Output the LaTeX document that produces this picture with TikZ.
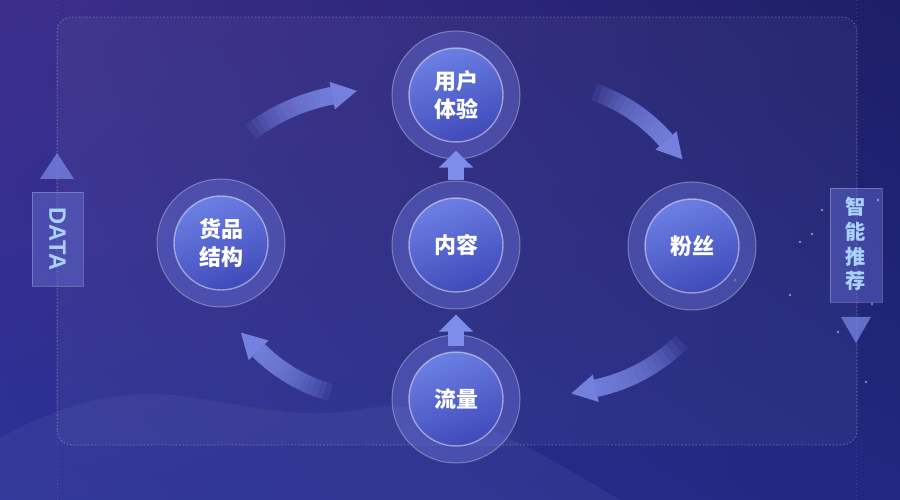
\documentclass[tikz,border=0pt]{standalone}
\usepackage{fontspec}
\newfontfamily\cjk{Noto Sans CJK SC}
\newfontfamily\latin{Liberation Sans}
\usetikzlibrary{calc,arrows.meta,shadings}

\definecolor{bgtl}{RGB}{62,46,140}
\definecolor{bgtr}{RGB}{28,30,104}
\definecolor{bgbl}{RGB}{42,48,150}
\definecolor{bgbr}{RGB}{34,40,128}
\definecolor{ringblue}{RGB}{104,112,212}
\definecolor{coretop}{RGB}{108,128,228}
\definecolor{corebot}{RGB}{64,74,186}
\definecolor{flowblue}{RGB}{126,140,234}
\definecolor{tagtext}{RGB}{170,210,255}

\tikzset{
  ring/.style={circle, minimum size=2.56cm, inner sep=0pt, fill=ringblue, fill opacity=0.45,
               draw=white, draw opacity=0.3, line width=0.6pt},
  core/.style={circle, minimum size=1.88cm, inner sep=0pt, top color=coretop, bottom color=corebot,
               shading angle=20, draw=white, draw opacity=0.45, line width=0.8pt, text=white,
               font=\cjk\bfseries\fontsize{12.5}{16}\selectfont, align=center},
  flowband/.style={line width=0.35cm, draw=flowblue, draw opacity=0.13},
  flowhead/.style={fill=flowblue, fill opacity=0.88},
  stemarrow/.style={line width=0.32cm, draw=flowblue, -{Triangle[length=0.34cm,width=0.66cm]}},
  tagbox/.style={fill=ringblue, fill opacity=0.45, draw=white, draw opacity=0.25, line width=0.5pt},
  tagtri/.style={fill=flowblue, fill opacity=0.7},
  panel/.style={fill=white, fill opacity=0.04, draw=white, draw opacity=0.35,
                dash pattern=on 0.8pt off 1.2pt, rounded corners=0.3cm},
  guide/.style={draw=white, draw opacity=0.12, dash pattern=on 0.6pt off 1.6pt},
  spark/.style={fill=white, fill opacity=0.45}
}

% curved arrow: centre, radius, start angle, end angle
\newcommand\flowarrow[4]{%
  \foreach \k in {0,...,13}{
    \pgfmathsetmacro\aa{#3+(#4-#3)*\k/14}
    \draw[flowband] ($(#1)+(\aa:#2)$) arc[start angle=\aa, end angle=#4, radius=#2];
  }
  \pgfmathsetmacro\ad{#4<#3 ? #4-90 : #4+90}
  \pgfmathsetmacro\ro{#2+14}
  \pgfmathsetmacro\ri{#2-14}
  \fill[flowhead] ($(#1)+(#4:\ro)$) -- ($(#1)+(#4:\ri)$) -- ($(#1)+(#4:#2)+(\ad:25)$) -- cycle;
}

\begin{document}
\begin{tikzpicture}[x=0.02cm, y=0.02cm]
  % Background and panel.
  \shade[upper left=bgtl, upper right=bgtr, lower left=bgbl, lower right=bgbr] (0,0) rectangle (900,500);
  \useasboundingbox (0,0) rectangle (900,500);
  \fill[bgbl!80!white, fill opacity=0.22] (0,0) -- (0,62) .. controls (60,95) and (120,112) .. (180,104)
    .. controls (250,95) and (300,78) .. (370,92) .. controls (440,104) and (520,60) .. (620,0) -- cycle;
  \draw[guide] (57,0) -- (57,500);
  \draw[guide] (856,0) -- (856,500);
  \path[panel] (57,55) rectangle (857,483);

  % Side tags.
  \fill[tagtri] (57,347) -- (40,321) -- (74,321) -- cycle;
  \path[tagbox] (32,214) rectangle (83,308);
  \node[rotate=-90, text=tagtext, font=\latin\bfseries\fontsize{13.5}{13.5}\selectfont] (data) at (57.5,261) {DATA};
  \path[tagbox] (830,198) rectangle (882,312);
  \node[text=tagtext, align=center, font=\cjk\bfseries\fontsize{11.5}{14}\selectfont] (tuijian) at (856,256) {智\\能\\推\\荐};
  \fill[tagtri] (841,183) -- (871,183) -- (856,157) -- cycle;

  % Sparks on the right.
  \foreach \p in {(735,220),(790,205),(800,258),(812,266),(822,290),(846,272),(872,196),(878,300),(838,168),(866,118)}
    \fill[spark] \p circle (1.3);

  % Outer rings and cores.
  \node[ring] (ux) at (456,405) {};
  \node[ring] (hp) at (221,257) {};
  \node[ring] (nr) at (456,255) {};
  \node[ring] (fs) at (692,254) {};
  \node[ring] (ll) at (456,101) {};
  \node[core] (uxc) at (ux) {用户\\体验};
  \node[core] (hpc) at (hp) {货品\\结构};
  \node[core] (nrc) at (nr) {内容};
  \node[core] (fsc) at (fs) {粉丝};
  \node[core] (llc) at (ll) {流量};

  % Straight arrows up the middle.
  \draw[stemarrow] (nr.north) -- ($(ux.south)+(0,9)$);
  \draw[stemarrow] ($(ll.north)+(0,-12)$) -- ($(nr.south)+(0,-5)$);

  % Curved arrows round the loop.
  \coordinate (c1) at (370,210);
  \coordinate (c2) at (540,250);
  \coordinate (c3) at (560,280);
  \coordinate (c4) at (376,267);
  \flowarrow{c1}{198}{127}{101}
  \flowarrow{c2}{167}{71}{41}
  \flowarrow{c3}{172}{-45}{-78}
  \flowarrow{c4}{166}{-106}{-135}
\end{tikzpicture}
\end{document}
